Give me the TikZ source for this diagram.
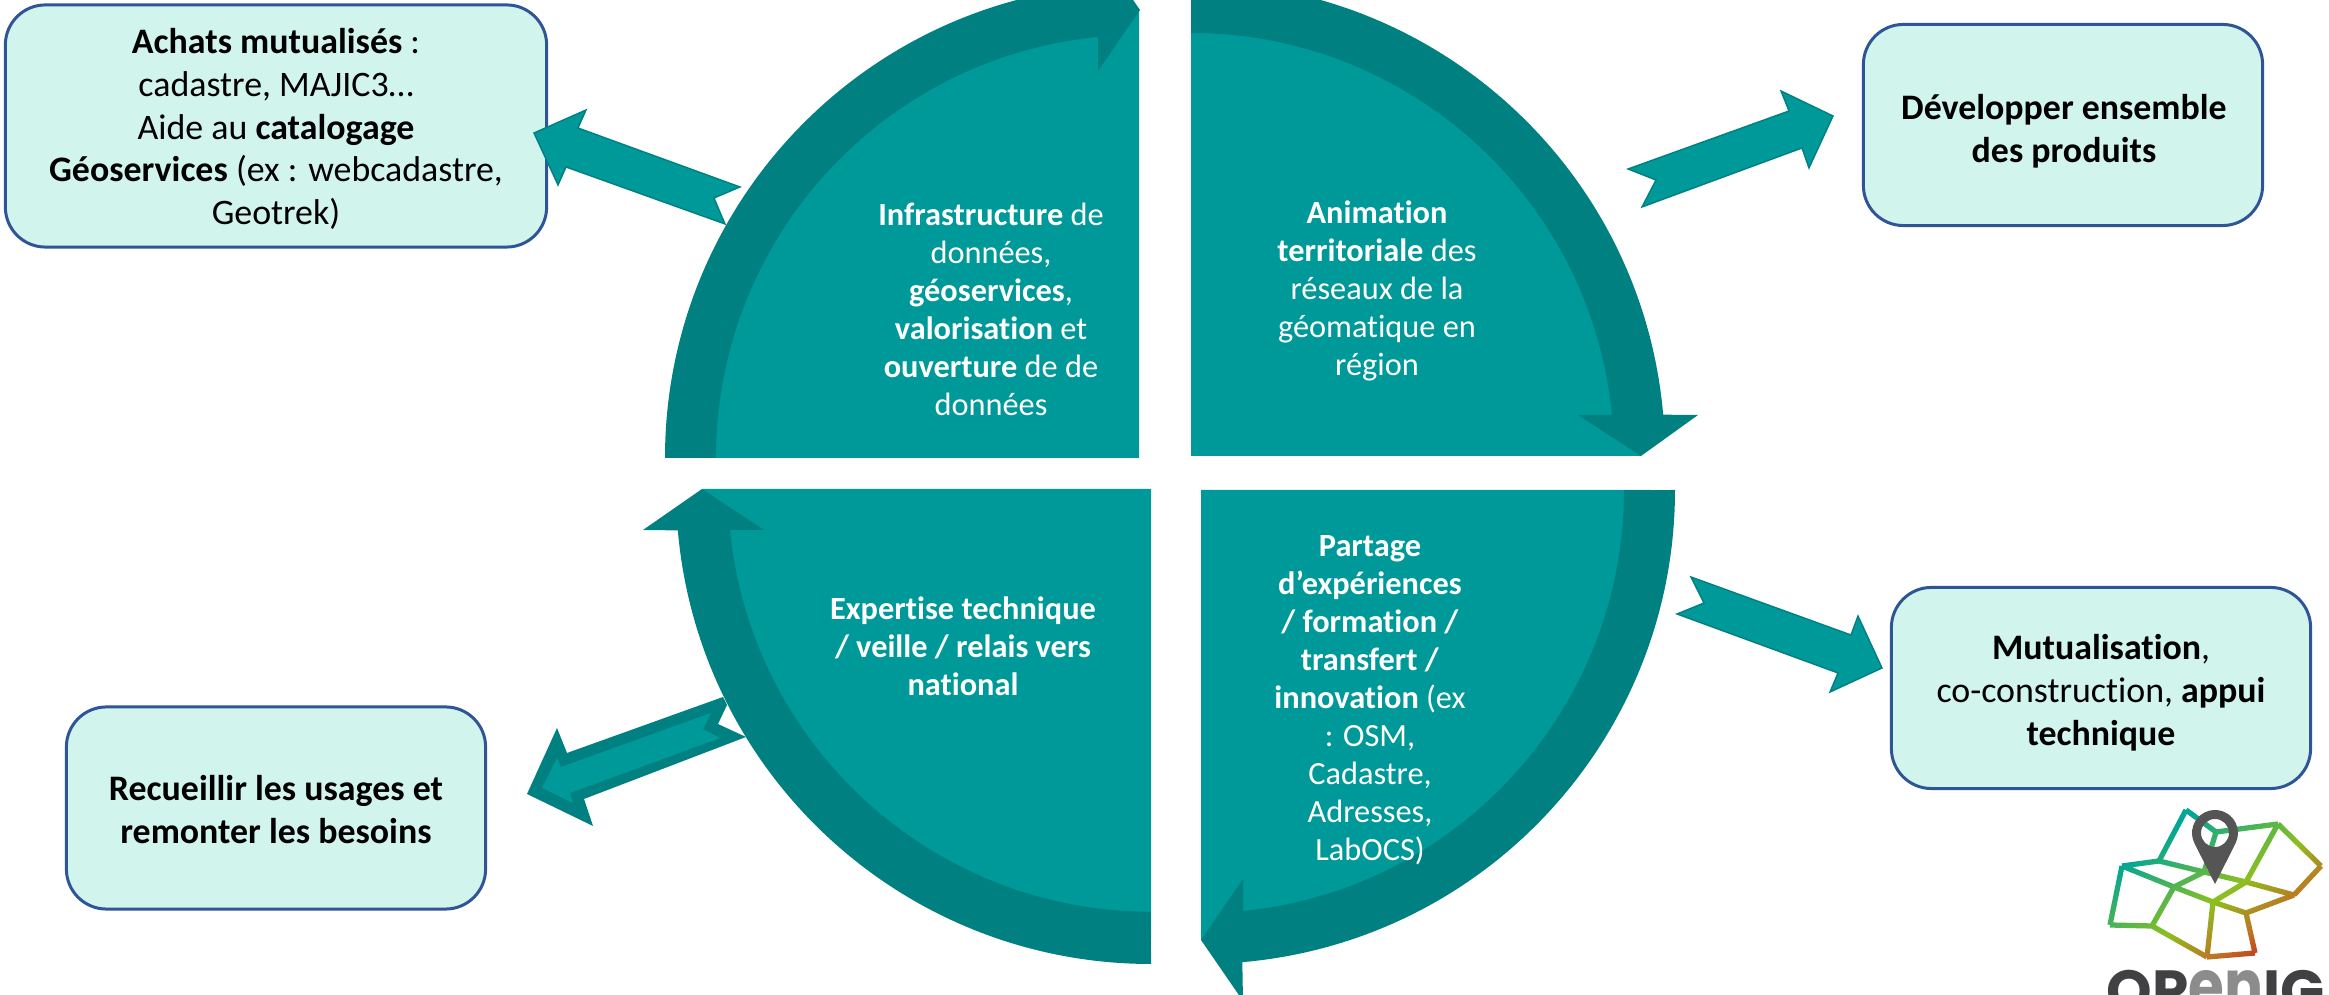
\documentclass[tikz,border=0pt]{standalone}
\usepackage{fontspec}
\setmainfont{Carlito}[Ligatures=NoCommon]
\newfontfamily\logofont{Poppins}
\usetikzlibrary{calc}
\definecolor{quadLight}{HTML}{009999}
\definecolor{quadDark}{HTML}{008080}
\definecolor{boxFill}{HTML}{D1F4EC}
\definecolor{boxLine}{HTML}{2F5597}
\definecolor{pinGrey}{HTML}{555555}
\definecolor{logoDark}{HTML}{414143}
\definecolor{logoGrey}{HTML}{8C8C8C}
\pgfdeclarehorizontalshading{logoshade}{100bp}{rgb(0bp)=(0,0.65,0.59); rgb(32bp)=(0,0.65,0.59); rgb(54bp)=(0.55,0.75,0.12); rgb(66bp)=(0.75,0.45,0.14); rgb(76bp)=(0.77,0.1,0.12); rgb(100bp)=(0.77,0.1,0.12)}
\tikzset{
    infobox/.style={draw=boxLine, line width=0.85pt, fill=boxFill, rounded corners=0.4cm},
    boxtext/.style={align=center, inner sep=0pt, font=\fontsize{10.2}{12.2}\selectfont},
    quadtext/.style={text=white, align=center, font=\fontsize{9.2}{10.8}\selectfont},
    blockarrow/.style={fill=quadLight, draw=quadDark, line width=0.4pt, line join=miter}
}
\begin{document}
\begin{tikzpicture}[x=0.01cm, y=-0.01cm]
        \useasboundingbox (0,0) rectangle (2329,995);
        \clip (0,0) rectangle (2329,995);
        % outer boxes
        \node [infobox, minimum width=5.41cm, minimum height=2.42cm] (achats) at (276,126) {};
        \node [infobox, minimum width=3.99cm, minimum height=2.01cm] (dev) at (2063,125) {};
        \node [infobox, minimum width=4.19cm, minimum height=2.01cm] (mutu) at (2101,688) {};
        \node [infobox, minimum width=4.19cm, minimum height=2.02cm] (usages) at (276,808) {};
        \node [boxtext] (achatstext) at (276,129) {\textbf{Achats mutualisés} :\\cadastre, MAJIC3…\\Aide au \textbf{catalogage}\\\textbf{Géoservices} (ex : webcadastre,\\Geotrek)};
        \node [boxtext] (devtext) at (2064,131) {\textbf{Développer ensemble}\\\textbf{des produits}};
        \node [boxtext] (mututext) at (2101,693) {\textbf{Mutualisation},\\co-construction, \textbf{appui}\\\textbf{technique}};
        \node [boxtext] (usagestext) at (276,810) {\textbf{Recueillir les usages et}\\\textbf{remonter les besoins}};
        % block arrows
        \draw [blockarrow] (534,133) -- (586,110) -- (578,128) -- (740,187) -- (714,198) -- (725,224) -- (566,167) -- (558,185) -- cycle;
        \draw [blockarrow] (1833,116) -- (1781,91) -- (1789,111) -- (1628,169) -- (1656,180) -- (1642,207) -- (1802,148) -- (1809,168) -- cycle;
        \draw [blockarrow] (1882,668) -- (1858,616) -- (1851,635) -- (1691,577) -- (1704,603) -- (1677,614) -- (1838,673) -- (1830,692) -- cycle;
        \fill [quadDark] (527,794) -- (557,728) -- (567,753) -- (723,697) -- (727,705) -- (718,724) -- (746,737) -- (584,799) -- (593,826) -- cycle;
        \fill [quadLight] (542,788) -- (557,758) -- (561,767) -- (711,713) -- (703,729) -- (720,738) -- (570,793) -- (573,803) -- cycle;
        % quarters, lighter part
        \fill [quadLight] (1139,458) -- (690,458) arc [start angle=180, end angle=270, radius=449] -- cycle;
        \fill [quadLight] (1191,456) -- (1191,6) arc [start angle=270, end angle=360, radius=450] -- cycle;
        \fill [quadLight] (1201,490) -- (1651,490) arc [start angle=0, end angle=90, radius=450] -- cycle;
        \fill [quadLight] (1151,489) -- (1151,938) arc [start angle=90, end angle=180, radius=449] -- cycle;
        % quarters, curved arrows
        \fill [quadDark] (665,458) arc [start angle=180, end angle=265, radius=474] -- (1098,-51) -- (1140,10) -- (1098,71) -- (1098,37) arc [start angle=264.44, end angle=180, radius=423] -- cycle;
        \fill [quadDark] (1191,-18) arc [start angle=270, end angle=355, radius=474] -- (1698,415) -- (1641,456) -- (1578,415) -- (1612,415) arc [start angle=354.44, end angle=270, radius=423] -- cycle;
        \fill [quadDark] (1675,490) arc [start angle=0, end angle=85, radius=474] -- (1243,1001) -- (1201,940) -- (1243,879) -- (1243,911) arc [start angle=84.3, end angle=0, radius=423] -- cycle;
        \fill [quadDark] (1151,964) arc [start angle=90, end angle=175, radius=475] -- (643,530) -- (702,489) -- (764,530) -- (730,530) arc [start angle=174.4, end angle=90, radius=423] -- cycle;
        % texts of the quarters
        \node [quadtext] (infra) at (991,309) {\textbf{Infrastructure} de\\données,\\\textbf{géoservices},\\\textbf{valorisation} et\\\textbf{ouverture} de de\\données};
        \node [quadtext] (anim) at (1377,291) {\textbf{Animation}\\\textbf{territoriale} des\\réseaux de la\\géomatique en\\région};
        \node [quadtext] (partage) at (1370,700) {\textbf{Partage}\\\textbf{d’expériences}\\\textbf{/ formation /}\\\textbf{transfert /}\\\textbf{innovation} (ex\\: OSM,\\Cadastre,\\Adresses,\\LabOCS)};
        \node [quadtext] (expert) at (963,646) {\textbf{Expertise technique}\\\textbf{/ veille / relais vers}\\\textbf{national}};
        % logo
        \coordinate (a) at (2186,810);
        \coordinate (b) at (2216,832);
        \coordinate (c) at (2278,824);
        \coordinate (d) at (2321,866);
        \coordinate (e) at (2294,895);
        \coordinate (f) at (2246,913);
        \coordinate (g) at (2255,953);
        \coordinate (h) at (2207,957);
        \coordinate (i) at (2152,926);
        \coordinate (j) at (2110,925);
        \coordinate (k) at (2122,866);
        \coordinate (l) at (2159,861);
        \coordinate (m) at (2174,887);
        \coordinate (n) at (2213,902);
        \coordinate (o) at (2246,882);
        \coordinate (p) at (2204,872);
        \begin{scope}
            \path [clip] \foreach \s/\t in {a/l, a/b, b/c, c/d, d/e, e/f, f/g, g/h, h/i, i/j, j/k, k/l, k/m, m/n, n/f, l/p, p/o, o/e, m/p, n/o, o/c, i/m, n/h, b/p} {
                ($(\s)!0.75pt!90:(\t)$) -- ($(\s)!0.75pt!-90:(\t)$) -- ($(\t)!0.75pt!90:(\s)$) -- ($(\t)!0.75pt!-90:(\s)$) -- cycle
            };
            \shade [shading=logoshade, shading angle=-55] (2100,800) rectangle (2329,965);
        \end{scope}
        \fill [pinGrey, even odd rule] (2215,884) -- ($(2215,833)+(153.2:23)$) arc [start angle=153.2, end angle=386.8, radius=23] -- cycle (2215,833) circle [radius=14];
        \node [anchor=base west, inner sep=0pt, font=\logofont\bfseries\fontsize{16.5}{18}\selectfont, text=logoDark] (openig) at (2106,1012) {OP\textcolor{logoGrey}{\scalebox{1}[1.25]{en}}IG};
\end{tikzpicture}
\end{document}
